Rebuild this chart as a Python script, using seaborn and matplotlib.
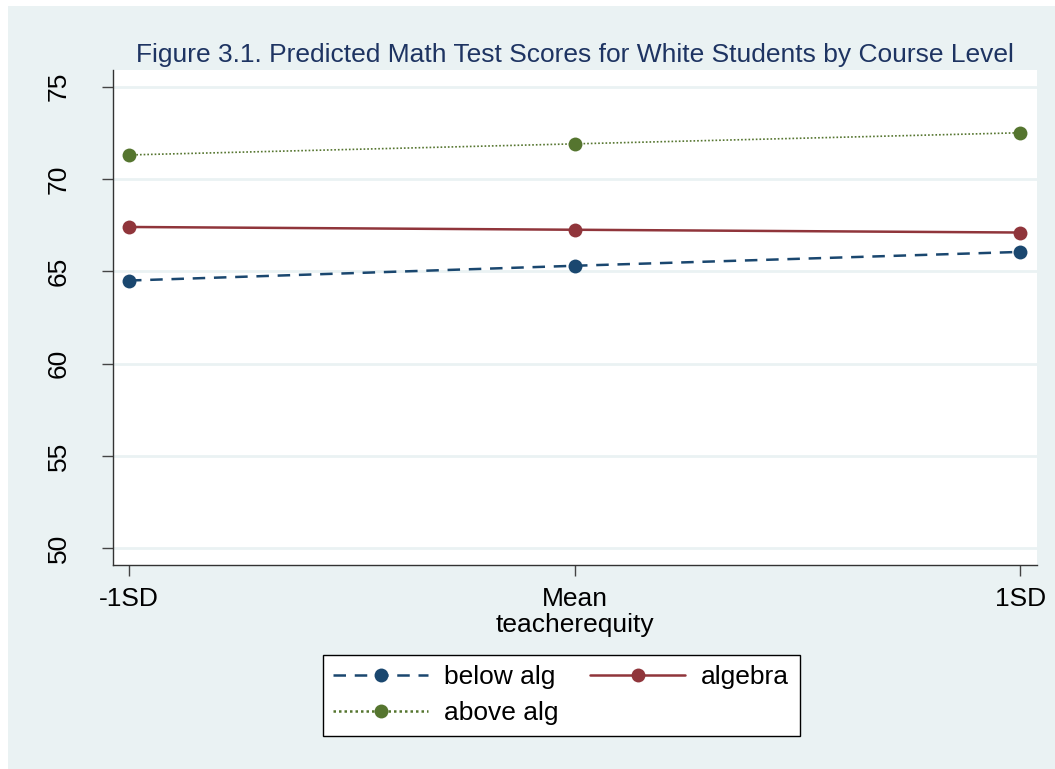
import seaborn as sns
import matplotlib.pyplot as plt
import matplotlib.patches as mpatches
import pandas as pd

# predicted scores at -1SD, Mean, +1SD of teacherequity
x_pos = [0, 1, 2]
x_labels = ['-1SD', 'Mean', '1SD']
below_alg = [64.5, 65.3, 66.05]
algebra = [67.4, 67.25, 67.1]
above_alg = [71.3, 71.9, 72.5]
y_ticks = [50, 55, 60, 65, 70, 75]

groups = ['below alg', 'algebra', 'above alg']
df = pd.DataFrame({
    'teacherequity': x_pos * 3,
    'score': below_alg + algebra + above_alg,
    'group': [g for g in groups for _ in x_pos],
})

# stata s2color-ish colours
bg = '#eaf2f3'
palette = {'below alg': '#1a476f', 'algebra': '#90353b', 'above alg': '#55752f'}
dashes = {'below alg': (5, 3.5), 'algebra': '', 'above alg': (1, 1.2)}
markers = {g: 'o' for g in groups}

sns.set_theme(style='white')
plt.rcParams['font.family'] = ['Liberation Sans', 'DejaVu Sans']
plt.rcParams['text.color'] = 'black'
plt.rcParams['axes.labelcolor'] = 'black'

fig = plt.figure(figsize=(10.55, 7.69), dpi=100, facecolor='white')
# light panel with a thin white margin at top/left
fig.patches.append(mpatches.Rectangle((8 / 1055, 0), 1, 1 - 6 / 769,
                                      transform=fig.transFigure,
                                      facecolor=bg, edgecolor='none', zorder=-1))
ax = fig.add_axes([0.1068, 0.2653, 0.8762, 0.6437])
ax.set_facecolor('white')

sns.lineplot(data=df, x='teacherequity', y='score', hue='group', style='group',
             hue_order=groups, style_order=groups, palette=palette,
             dashes=dashes, markers=markers, markersize=10, markeredgewidth=0,
             linewidth=1.8, ax=ax)
ax.lines[2].set_linewidth(1.2)

ax.set_xlim(-0.0366, 2.038)
ax.set_ylim(49.1, 75.9)
ax.set_xticks(x_pos)
ax.set_xticklabels(x_labels)
ax.set_yticks(y_ticks)
ax.yaxis.grid(True, color=bg, linewidth=2)
ax.xaxis.grid(False)
ax.set_axisbelow(True)

for s in ['top', 'right']:
    ax.spines[s].set_visible(False)
for s in ['left', 'bottom']:
    ax.spines[s].set_color('#333333')
    ax.spines[s].set_linewidth(1)

ax.tick_params(axis='both', which='major', length=8, width=1, color='#444444',
               labelsize=19, labelcolor='black', left=True, bottom=True)
ax.tick_params(axis='x', pad=8)
ax.tick_params(axis='y', pad=22)
for lab in ax.get_yticklabels():
    lab.set_rotation(90)
    lab.set_va('center')

ax.set_xlabel('teacherequity', fontsize=19, color='black', labelpad=1)
ax.set_ylabel('')
ax.set_title('Figure 3.1. Predicted Math Test Scores for White Students by Course Level',
             fontsize=19, color='#1e3462', pad=6)

handles, labels = ax.get_legend_handles_labels()
ax.get_legend().remove()
hmap = dict(zip(labels, handles))
order = ['below alg', 'above alg', 'algebra']
leg = fig.legend([hmap[k] for k in order], order, loc='center',
                 bbox_to_anchor=(0.532, 0.096), ncol=2, fontsize=19,
                 frameon=True, fancybox=False, edgecolor='black',
                 facecolor='white', framealpha=1, handlelength=3.6,
                 columnspacing=1.2, labelspacing=0.45, borderpad=0.4,
                 handletextpad=0.6, labelcolor='black')
leg.get_frame().set_linewidth(1)

fig.savefig('out.png', dpi=100, facecolor=fig.get_facecolor())
